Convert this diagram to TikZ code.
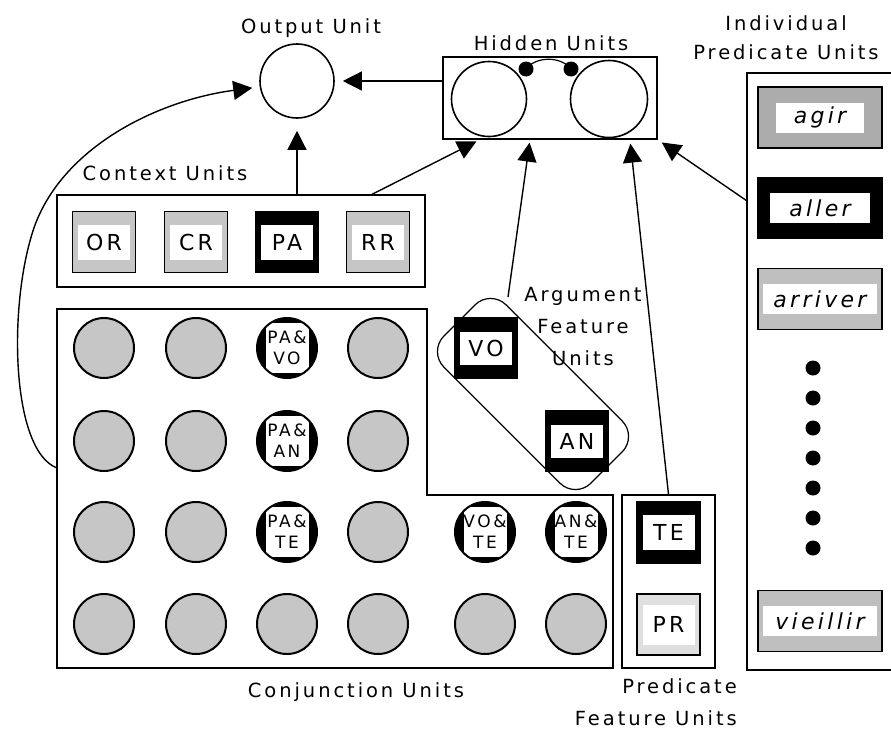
\documentclass[tikz,border=0pt]{standalone}
\usepackage{fontspec}
\setmainfont{DejaVu Sans}[LetterSpace=15]
\usetikzlibrary{arrows.meta}
\newcommand\capsfont{\fontsize{19.5}{31}\selectfont}
\newcommand\unitfont{\fontsize{22}{24}\selectfont}
\newcommand\conjfont{\fontsize{17}{21}\selectfont}

\begin{document}
\begin{tikzpicture}[x=1pt,y=-1pt,
    caps/.style={font=\capsfont, inner sep=0pt},
    frame/.style={draw, line width=1.3pt, inner sep=0pt},
    unit/.style n args={3}{draw, line width=1.4pt, fill=#1, inner sep=0pt,
      minimum width=63pt, minimum height=61pt, font=\unitfont,
      path picture={\fill[white] ([xshift=-#2/2,yshift=-#3/2]path picture bounding box.center) rectangle ++(#2,#3);}},
    conj/.style={circle, draw, line width=2pt, fill=gray!45, minimum size=60pt, inner sep=0pt},
    conjon/.style={conj, fill=black, align=center, font=\conjfont,
      path picture={\fill[white] ([xshift=-21.5pt,yshift=-25pt]path picture bounding box.center) rectangle ++(43pt,50pt);}},
    arr/.style={-{Triangle[length=19pt,width=19pt]}, line width=1.4pt}]
        \useasboundingbox (0,0) rectangle (891,728);
        % output and hidden units
        \node[circle, draw, line width=1.6pt, minimum size=74pt, inner sep=0pt] (O) at (297,81) {};
        \node[caps, anchor=base] (Ot) at (311,33) {Output Unit};
        \node[frame, minimum width=214pt, minimum height=82pt] (H) at (550,98) {};
        \node[circle, draw, line width=1.6pt, minimum size=75pt, inner sep=0pt] (H1) at (489,99) {};
        \node[circle, draw, line width=1.6pt, minimum size=77pt, inner sep=0pt] (H2) at (609,99) {};
        \draw [line width=1.2pt] (526,69) .. controls (536,56) and (561,56) .. (571,69);
        \fill (526,69) circle (7.5) (571,69) circle (7.5);
        \node[caps, anchor=base] (Ht) at (551,50) {Hidden Units};
        % context units
        \node[frame, minimum width=368pt, minimum height=92pt] (C) at (241,241) {};
        \node[caps, anchor=base] (Ct) at (165,180) {Context Units};
        \foreach \n/\x/\col in {OR/104/gray!45, CR/196/gray!45, PA/287/black, RR/378/gray!45}
          \node[unit={\col}{52pt}{35pt}] (\n) at (\x,242) {\n};
        % conjunction units
        \draw [line width=1.3pt] (57,309) -- (427,309) -- (427,495) -- (613,495) -- (613,668) -- (57,668) -- cycle;
        \foreach \y in {348,441,532,624}
          \foreach \x in {104,196,378}
            \node[conj] (c\x-\y) at (\x,\y) {};
        \foreach \x in {287,485,576}
          \node[conj] (c\x-624) at (\x,624) {};
        \foreach \x/\y/\txt in {287/348/{PA\&\\VO}, 287/441/{PA\&\\AN}, 287/532/{PA\&\\TE},
            485/532/{VO\&\\TE}, 576/532/{AN\&\\TE}}
          \node[conjon] (c\x-\y) at (\x,\y) {\txt};
        \node[caps, anchor=base] (Jt) at (356,697) {Conjunction Units};
        % argument features
        \node[draw, line width=1.2pt, rounded corners=22pt, minimum width=208pt, minimum height=88pt, rotate=-45] (A) at (533,394) {};
        \node[unit={black}{52pt}{33pt}] (VO) at (486,348) {VO};
        \node[unit={black}{52pt}{33pt}] (AN) at (577,441) {AN};
        \node[caps, align=center, anchor=north] (At) at (583,287) {Argument\\[1pt]Feature\\[1pt]Units};
        % predicate features
        \node[frame, minimum width=93pt, minimum height=173pt] (P) at (668.5,581.5) {};
        \node[unit={black}{52pt}{35pt}] (TE) at (668.5,532.5) {TE};
        \node[unit={gray!25}{52pt}{40pt}] (PR) at (668.5,624.5) {PR};
        \node[caps, align=right, anchor=north east] (Pt) at (737,678) {Predicate\\[1pt]Feature Units};
        % individual predicates
        \node[frame, minimum width=148pt, minimum height=597pt] (I) at (821,371.5) {};
        \node[caps, align=center, anchor=north] (It) at (786,15) {Individual\\[-2pt]Predicate Units};
        \foreach \n/\y/\col/\w in {agir/117.5/gray!65/88pt, aller/208/black/100pt,
            arriver/299/gray!50/114pt, vieillir/621/gray!50/114pt}
          \node[unit={\col}{\w}{30pt}, minimum width=124pt, font=\unitfont\itshape] (\n) at (820,\y) {\n};
        \foreach \y in {368,398,...,549}
          \fill (813,\y) circle (7.5);
        % connections
        \coordinate (a) at (508,297);
        \coordinate (J) at (57,468);
        \draw [arr, shorten >=8pt] (O.east -| H.west) -- (O.east);
        \draw [arr, shorten >=12pt] (O.south |- C.north) -- (O.south);
        \draw [arr, shorten >=4pt] ([xshift=131pt]C.north) -- ([xshift=-70pt]H.south);
        \draw [arr, shorten >=3pt] (a) -- ([xshift=-20pt]H.south);
        \draw [arr, shorten >=4pt] (P.north) -- ([xshift=80pt]H.south);
        \draw [arr, shorten >=5pt] ([yshift=171pt]I.west) -- (H.south east);
        \draw [arr, shorten >=7pt] (J) .. controls (10,450) and (8,300) .. (35,225)
          .. controls (65,145) and (160,100) .. ([yshift=-6pt]O.west);
      \end{tikzpicture}
\end{document}
